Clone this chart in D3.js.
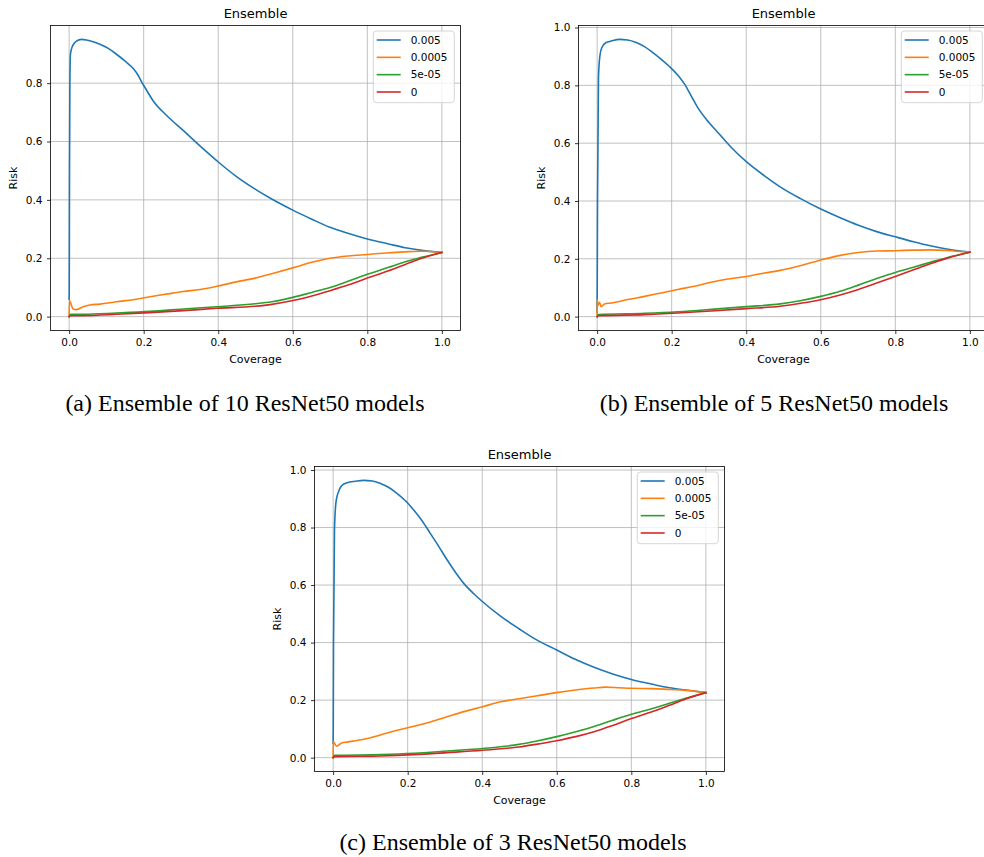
<!DOCTYPE html>
<html>
<head>
<meta charset="utf-8">
<script src="https://cdn.jsdelivr.net/npm/d3@7"></script>
<style>
  html, body { margin: 0; padding: 0; background: #fff; }
  svg { display: block; }
</style>
</head>
<body>
<svg id="chart" width="984" height="857"></svg>
<script>
// ---------------- DATA ----------------
const seriesLabels = ["0.005", "0.0005", "5e-05", "0"];
const seriesColors = ["#1f77b4", "#ff7f0e", "#2ca02c", "#d62728"];
const xTicks = [0.0, 0.2, 0.4, 0.6, 0.8, 1.0];
const yTicks = [0.0, 0.2, 0.4, 0.6, 0.8, 1.0];
const panelTitle = "Ensemble";
const xLabel = "Coverage";
const yLabel = "Risk";
const captions = ["(a) Ensemble of 10 ResNet50 models", "(b) Ensemble of 5 ResNet50 models", "(c) Ensemble of 3 ResNet50 models"];

// Panel (a): 10 models  [coverage, risk]
const a_005 = [[0,0.06],[0.0003,0.1],[0.001,0.5],[0.002,0.8],[0.0036,0.9],[0.009,0.927],[0.0197,0.944],[0.033,0.95],[0.0466,0.948],[0.0645,0.942],[0.0824,0.933],[0.105,0.919],[0.127,0.899],[0.1495,0.876],[0.172,0.85],[0.185,0.827],[0.194,0.805],[0.203,0.786],[0.2256,0.739],[0.261,0.69],[0.306,0.638],[0.351,0.585],[0.401,0.529],[0.449,0.48],[0.499,0.437],[0.5436,0.403],[0.6,0.365],[0.651,0.334],[0.7,0.306],[0.75,0.285],[0.8,0.266],[0.857,0.249],[0.902,0.236],[0.946,0.227],[1.0,0.22]];
const a_0005 = [[0,0],[0.0008,0.055],[0.0036,0.049],[0.0107,0.026],[0.0197,0.024],[0.0376,0.034],[0.0555,0.04],[0.0824,0.043],[0.127,0.051],[0.172,0.058],[0.217,0.068],[0.261,0.077],[0.306,0.086],[0.351,0.093],[0.396,0.104],[0.449,0.119],[0.499,0.132],[0.5436,0.147],[0.6,0.167],[0.651,0.186],[0.7,0.2],[0.75,0.208],[0.8,0.213],[0.857,0.219],[0.902,0.222],[0.946,0.224],[1.0,0.22]];
const a_5e05 = [[0,0],[0.0036,0.008],[0.0376,0.008],[0.127,0.0125],[0.217,0.018],[0.306,0.026],[0.396,0.034],[0.499,0.044],[0.5436,0.051],[0.6,0.066],[0.651,0.083],[0.7,0.1],[0.75,0.122],[0.8,0.145],[0.857,0.169],[0.902,0.188],[0.946,0.203],[1.0,0.22]];
const a_0 = [[0,0],[0.0036,0.003],[0.0376,0.0034],[0.127,0.008],[0.217,0.0137],[0.306,0.0205],[0.396,0.0285],[0.499,0.0355],[0.5436,0.042],[0.6,0.055],[0.651,0.071],[0.7,0.089],[0.75,0.109],[0.8,0.132],[0.857,0.157],[0.902,0.179],[0.946,0.2],[1.0,0.22]];

// Panel (b): 5 models
const b_005 = [[0,0.015],[0.001,0.4],[0.0036,0.827],[0.0072,0.9],[0.0125,0.93],[0.024,0.948],[0.0376,0.953],[0.06,0.959],[0.082,0.957],[0.105,0.948],[0.127,0.934],[0.1495,0.913],[0.172,0.89],[0.194,0.865],[0.2167,0.835],[0.2346,0.804],[0.2525,0.763],[0.27,0.723],[0.2927,0.683],[0.324,0.637],[0.36,0.585],[0.401,0.535],[0.449,0.487],[0.491,0.449],[0.5445,0.409],[0.6,0.372],[0.652,0.342],[0.701,0.316],[0.75,0.294],[0.8,0.276],[0.849,0.259],[0.894,0.245],[0.938,0.234],[1.0,0.223]];
const b_0005 = [[0,0],[0.0005,0.059],[0.0018,0.038],[0.0063,0.05],[0.0107,0.035],[0.0197,0.044],[0.0376,0.047],[0.082,0.059],[0.127,0.07],[0.172,0.082],[0.2167,0.094],[0.261,0.105],[0.306,0.119],[0.351,0.13],[0.401,0.139],[0.449,0.151],[0.491,0.16],[0.5445,0.176],[0.6,0.196],[0.652,0.212],[0.701,0.222],[0.75,0.227],[0.8,0.228],[0.849,0.23],[0.894,0.231],[0.938,0.229],[1.0,0.223]];
const b_5e05 = [[0,0],[0.0036,0.007],[0.127,0.0115],[0.2167,0.017],[0.306,0.025],[0.401,0.0345],[0.491,0.044],[0.5445,0.055],[0.6,0.07],[0.652,0.0875],[0.701,0.109],[0.75,0.132],[0.8,0.153],[0.849,0.171],[0.894,0.188],[0.938,0.204],[1.0,0.223]];
const b_0 = [[0,0],[0.0036,0.003],[0.127,0.007],[0.2167,0.0127],[0.306,0.0196],[0.401,0.0276],[0.491,0.0357],[0.5445,0.046],[0.6,0.0587],[0.652,0.075],[0.701,0.094],[0.75,0.116],[0.8,0.139],[0.849,0.162],[0.894,0.183],[0.938,0.2015],[1.0,0.223]];

// Panel (c): 3 models
const c_005 = [[0,0.05],[0.0003,0.096],[0.001,0.4],[0.0036,0.79],[0.0072,0.883],[0.0125,0.918],[0.024,0.947],[0.0376,0.956],[0.06,0.961],[0.082,0.964],[0.105,0.962],[0.127,0.953],[0.1495,0.939],[0.172,0.918],[0.194,0.893],[0.2167,0.86],[0.239,0.823],[0.261,0.779],[0.284,0.733],[0.306,0.687],[0.329,0.643],[0.351,0.605],[0.378,0.569],[0.401,0.542],[0.449,0.492],[0.4988,0.448],[0.5436,0.411],[0.6,0.374],[0.651,0.341],[0.7,0.314],[0.75,0.291],[0.8,0.272],[0.857,0.255],[0.902,0.243],[0.946,0.235],[1.0,0.226]];
const c_0005 = [[0,0],[0.0005,0.056],[0.0036,0.05],[0.009,0.04],[0.0152,0.044],[0.024,0.052],[0.0376,0.054],[0.06,0.059],[0.082,0.064],[0.127,0.079],[0.172,0.095],[0.2,0.104],[0.2167,0.109],[0.261,0.124],[0.306,0.142],[0.351,0.16],[0.401,0.177],[0.449,0.194],[0.4988,0.205],[0.5436,0.214],[0.6,0.226],[0.651,0.235],[0.7,0.242],[0.73,0.245],[0.767,0.243],[0.8,0.241],[0.857,0.24],[0.902,0.237],[0.946,0.234],[1.0,0.226]];
const c_5e05 = [[0,0],[0.0036,0.008],[0.127,0.0104],[0.2167,0.015],[0.306,0.023],[0.401,0.032],[0.4988,0.046],[0.5436,0.057],[0.6,0.073],[0.651,0.09],[0.7,0.108],[0.75,0.13],[0.8,0.151],[0.857,0.171],[0.902,0.189],[0.946,0.206],[1.0,0.226]];
const c_0 = [[0,0],[0.0036,0.0035],[0.127,0.0058],[0.2167,0.0104],[0.306,0.0174],[0.401,0.0255],[0.4988,0.037],[0.5436,0.046],[0.6,0.059],[0.651,0.073],[0.7,0.09],[0.75,0.112],[0.8,0.136],[0.857,0.16],[0.902,0.182],[0.946,0.204],[1.0,0.226]];

const panelData = [
  [a_005, a_0005, a_5e05, a_0],
  [b_005, b_0005, b_5e05, b_0],
  [c_005, c_0005, c_5e05, c_0]
];

// ---------------- LAYOUT ----------------
const panelBoxes = [
  {left: 50.5, top: 25.5},
  {left: 578.5, top: 25.5},
  {left: 314.5, top: 466.5}
];
const AW = 410, AH = 305;
const captionPos = [{x: 245, y: 411}, {x: 774, y: 411}, {x: 513, y: 850}];

const svg = d3.select("#chart");
const FONT = "DejaVu Sans, sans-serif";

function drawPanel(box, series) {
  const g = svg.append("g").attr("transform", `translate(${box.left},${box.top})`);
  const allX = series.flat().map(d => d[0]);
  const allY = series.flat().map(d => d[1]);
  const [x0, x1] = d3.extent(allX);
  const [y0, y1] = d3.extent(allY);
  const mx = (x1 - x0) * 0.05, my = (y1 - y0) * 0.05;
  const x = d3.scaleLinear().domain([x0 - mx, x1 + mx]).range([0, AW]);
  const y = d3.scaleLinear().domain([y0 - my, y1 + my]).range([AH, 0]);
  const yt = yTicks.filter(t => t >= y.domain()[0] - 1e-9 && t <= y.domain()[1] + 1e-9);

  // grid
  g.append("g").selectAll("line").data(xTicks).join("line")
    .attr("x1", d => x(d)).attr("x2", d => x(d)).attr("y1", 0).attr("y2", AH)
    .attr("stroke", "#b0b0b0").attr("stroke-width", 0.8);
  g.append("g").selectAll("line").data(yt).join("line")
    .attr("y1", d => y(d)).attr("y2", d => y(d)).attr("x1", 0).attr("x2", AW)
    .attr("stroke", "#b0b0b0").attr("stroke-width", 0.8);

  // lines
  const line = d3.line().x(d => x(d[0])).y(d => y(d[1])).curve(d3.curveMonotoneX);
  series.forEach((s, i) => {
    g.append("path").datum(s).attr("d", line)
      .attr("fill", "none").attr("stroke", seriesColors[i])
      .attr("stroke-width", 1.6).attr("stroke-linejoin", "round").attr("stroke-linecap", "square");
  });

  // axes
  const xa = g.append("g").attr("transform", `translate(0,${AH})`)
    .call(d3.axisBottom(x).tickValues(xTicks).tickFormat(d3.format(".1f")).tickSize(3.5).tickPadding(4.5));
  const ya = g.append("g")
    .call(d3.axisLeft(y).tickValues(yt).tickFormat(d3.format(".1f")).tickSize(3.5).tickPadding(4.5));
  [xa, ya].forEach(a => {
    a.select(".domain").remove();
    a.selectAll(".tick line").attr("stroke", "#000").attr("stroke-width", 0.8);
    a.selectAll(".tick text").attr("font-family", FONT).attr("font-size", 10.5).attr("fill", "#000");
  });
  // spines
  g.append("rect").attr("x", 0).attr("y", 0).attr("width", AW).attr("height", AH)
    .attr("fill", "none").attr("stroke", "#000").attr("stroke-width", 0.8);

  // title + labels
  g.append("text").attr("x", AW / 2).attr("y", -7.5).attr("text-anchor", "middle")
    .attr("font-family", FONT).attr("font-size", 13).text(panelTitle);
  g.append("text").attr("x", AW / 2).attr("y", AH + 32.5).attr("text-anchor", "middle")
    .attr("font-family", FONT).attr("font-size", 11).text(xLabel);
  g.append("text").attr("transform", `translate(-33.2,${AH / 2}) rotate(-90)`).attr("text-anchor", "middle")
    .attr("font-family", FONT).attr("font-size", 11).text(yLabel);

  // legend
  const lg = g.append("g").attr("transform", `translate(${AW - 87.2},5.5)`);
  lg.append("rect").attr("width", 81).attr("height", 71.7).attr("rx", 3).attr("ry", 3)
    .attr("fill", "#fff").attr("fill-opacity", 0.8).attr("stroke", "#cccccc").attr("stroke-width", 0.8);
  seriesLabels.forEach((lab, i) => {
    const yy = 9 + i * 17.33;
    lg.append("line").attr("x1", 3.4).attr("x2", 27.4).attr("y1", yy).attr("y2", yy)
      .attr("stroke", seriesColors[i]).attr("stroke-width", 1.6);
    lg.append("text").attr("x", 37.4).attr("y", yy + 3.8)
      .attr("font-family", FONT).attr("font-size", 10.5).text(lab);
  });
}

panelData.forEach((s, i) => drawPanel(panelBoxes[i], s));

captions.forEach((c, i) => {
  svg.append("text").attr("x", captionPos[i].x).attr("y", captionPos[i].y)
    .attr("text-anchor", "middle").attr("font-family", "Liberation Serif, Times New Roman, serif")
    .attr("font-size", 24).text(c);
});
</script>
</body>
</html>
